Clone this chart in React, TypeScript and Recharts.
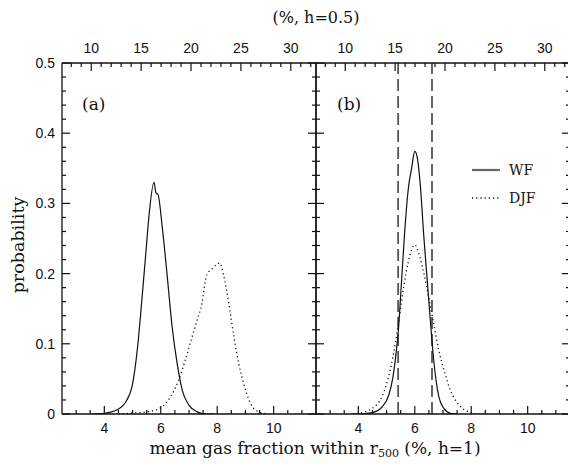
import React from 'react';
import { LineChart, Line, XAxis, YAxis, ReferenceLine, Legend } from 'recharts';

// conversion factor from h=1 gas fraction to h=0.5 gas fraction: (1/0.5)^1.5
const H_FACTOR = Math.pow(2, 1.5);

const xDomain: [number, number] = [2.5, 11.5];
const topDomain: [number, number] = [xDomain[0] * H_FACTOR, xDomain[1] * H_FACTOR];
const yDomain: [number, number] = [0, 0.5];

const bottomTicks = [3, 3.5, 4, 4.5, 5, 5.5, 6, 6.5, 7, 7.5, 8, 8.5, 9, 9.5, 10, 10.5, 11];
const bottomLabelled = [4, 6, 8, 10];
const topTicks = [8, 9, 10, 11, 12, 13, 14, 15, 16, 17, 18, 19, 20, 21, 22, 23, 24, 25, 26, 27, 28, 29, 30, 31, 32];
const topLabelled = [10, 15, 20, 25, 30];
const yTicks = [0, 0.02, 0.04, 0.06, 0.08, 0.1, 0.12, 0.14, 0.16, 0.18, 0.2, 0.22, 0.24, 0.26, 0.28, 0.3, 0.32, 0.34, 0.36, 0.38, 0.4, 0.42, 0.44, 0.46, 0.48, 0.5];
const yLabelled = [0, 0.1, 0.2, 0.3, 0.4, 0.5];

const seriesNames = ['WF', 'DJF'];

// panel (a)
const wfPanelA: [number, number][] = [
  [3.6, 0], [4.0, 0.001], [4.45, 0.006], [4.8, 0.02], [4.98, 0.039], [5.18, 0.096], [5.28, 0.139],
  [5.49, 0.239], [5.57, 0.277], [5.76, 0.33], [5.83, 0.315], [5.9, 0.313], [6.05, 0.267], [6.22, 0.2],
  [6.4, 0.125], [6.58, 0.072], [6.76, 0.034], [6.99, 0.013], [7.29, 0.003], [7.6, 0], [7.9, 0],
];
const djfPanelA: [number, number][] = [
  [4.5, 0], [4.92, 0.001], [5.51, 0.003], [5.99, 0.009], [6.34, 0.024], [6.63, 0.048], [6.87, 0.077],
  [7.11, 0.11], [7.29, 0.134], [7.46, 0.158], [7.58, 0.19], [7.64, 0.199], [7.82, 0.207], [8.09, 0.215],
  [8.23, 0.197], [8.41, 0.158], [8.59, 0.11], [8.76, 0.072], [8.94, 0.043], [9.18, 0.015], [9.47, 0.003],
  [9.8, 0],
];

// panel (b)
const wfPanelB: [number, number][] = [
  [3.8, 0], [4.01, 0], [4.49, 0.002], [4.84, 0.01], [5.08, 0.027], [5.22, 0.051], [5.31, 0.077],
  [5.43, 0.125], [5.52, 0.182], [5.64, 0.258], [5.78, 0.324], [5.88, 0.348], [6.0, 0.374], [6.08, 0.367],
  [6.2, 0.324], [6.32, 0.253], [6.44, 0.191], [6.55, 0.134], [6.67, 0.077], [6.85, 0.025], [7.03, 0.008],
  [7.26, 0.001], [7.5, 0],
];
const djfPanelB: [number, number][] = [
  [3.8, 0], [4.01, 0.001], [4.49, 0.008], [4.84, 0.025], [5.13, 0.063], [5.31, 0.101], [5.49, 0.148],
  [5.61, 0.182], [5.76, 0.215], [6.0, 0.241], [6.14, 0.229], [6.32, 0.201], [6.49, 0.167], [6.67, 0.129],
  [6.85, 0.091], [7.03, 0.063], [7.26, 0.034], [7.56, 0.013], [7.91, 0.003], [8.25, 0], [8.5, 0],
];

// dashed range markers in panel (b)
const rangeMarkers = [5.41, 6.61];

const toRows = (pts: [number, number][]) => pts.map(([x, p]) => ({ x, p }));
// same points expressed in h=0.5 units (for the top axis)
const toRowsH05 = (pts: [number, number][]) => pts.map(([x, p]) => ({ x: x * H_FACTOR, p }));

const SERIF = '"DejaVu Serif", "Liberation Serif", serif';
const SANS = '"Liberation Sans", Arial, sans-serif';
const INK = '#111';

type Side = 'left' | 'right' | 'top' | 'bottom';

const near = (list: number[], v: number) => list.some((m) => Math.abs(m - v) < 1e-6);

function makeTick(side: Side, majors: number[], showLabels: boolean, fmt: (v: number) => string) {
  return (props: any) => {
    const { x, y, payload } = props;
    const v = payload.value as number;
    const major = near(majors, v);
    const len = major ? 8 : 4;
    let line: React.ReactNode = null;
    let label: React.ReactNode = null;
    const tp = { fill: INK, fontSize: 14, fontFamily: SANS, stroke: 'none' };
    if (side === 'bottom') {
      line = <line x1={x} y1={y} x2={x} y2={y - len} />;
      if (showLabels && major) label = <text x={x} y={y + 19} textAnchor="middle" {...tp}>{fmt(v)}</text>;
    } else if (side === 'top') {
      line = <line x1={x} y1={y} x2={x} y2={y + len} />;
      if (showLabels && major) label = <text x={x} y={y - 10} textAnchor="middle" {...tp}>{fmt(v)}</text>;
    } else if (side === 'left') {
      line = <line x1={x} y1={y} x2={x + len} y2={y} />;
      if (showLabels && major) label = <text x={x - 7} y={y + 5} textAnchor="end" {...tp}>{fmt(v)}</text>;
    } else {
      line = <line x1={x} y1={y} x2={x - len} y2={y} />;
    }
    return (
      <g>
        <g stroke={INK} strokeWidth={1.2}>{line}</g>
        {label}
      </g>
    );
  };
}

const fmtInt = (v: number) => String(v);
const fmtY = (v: number) => (v === 0 ? '0' : v.toFixed(1));
const axisLine = { stroke: INK, strokeWidth: 1.3 };

const LegendBox = (props: any) => {
  const payload = ((props.payload || []) as any[])
    .filter((e) => seriesNames.includes(e.value))
    .sort((a, b) => seriesNames.indexOf(a.value) - seriesNames.indexOf(b.value));
  return (
    <svg width={100} height={50} style={{ display: 'block', overflow: 'visible' }}>
      {payload.map((entry, i) => {
        const dotted = entry.value === 'DJF';
        const y = 12 + i * 28;
        return (
          <g key={entry.value}>
            <line
              x1={2}
              y1={y}
              x2={30}
              y2={y}
              stroke={dotted ? INK : '#666'}
              strokeWidth={dotted ? 1.3 : 2.2}
              strokeDasharray={dotted ? '1.2 3' : undefined}
            />
            <text x={39} y={y + 5} fontFamily={SERIF} fontSize={14} fill={INK}>
              {entry.value}
            </text>
          </g>
        );
      })}
    </svg>
  );
};

interface PanelProps {
  wf: [number, number][];
  djf: [number, number][];
  width: number;
  marginLeft: number;
  leftAxisWidth: number;
  rightAxisWidth: number;
  showYLabels: boolean;
  markers?: number[];
  legend?: boolean;
}

function Panel(p: PanelProps) {
  return (
    <LineChart
      width={p.width}
      height={464}
      margin={{ top: 33, right: 0, bottom: 20, left: p.marginLeft }}
    >
      <XAxis
        dataKey="x"
        type="number"
        domain={xDomain}
        ticks={bottomTicks}
        interval={0}
        allowDataOverflow
        tickSize={0}
        tickMargin={0}
        height={30}
        axisLine={axisLine}
        tickLine={false}
        tick={makeTick('bottom', bottomLabelled, true, fmtInt)}
      />
      <XAxis
        xAxisId="top"
        dataKey="x"
        orientation="top"
        type="number"
        domain={topDomain}
        ticks={topTicks}
        interval={0}
        allowDataOverflow
        tickSize={0}
        tickMargin={0}
        height={30}
        axisLine={axisLine}
        tickLine={false}
        tick={makeTick('top', topLabelled, true, fmtInt)}
      />
      <YAxis
        type="number"
        domain={yDomain}
        ticks={yTicks}
        interval={0}
        allowDataOverflow
        tickSize={0}
        tickMargin={0}
        width={p.leftAxisWidth}
        axisLine={axisLine}
        tickLine={false}
        tick={makeTick('left', yLabelled, p.showYLabels, fmtY)}
      />
      <YAxis
        yAxisId="r"
        orientation="right"
        type="number"
        domain={yDomain}
        ticks={yTicks}
        interval={0}
        allowDataOverflow
        tickSize={0}
        tickMargin={0}
        width={p.rightAxisWidth}
        axisLine={axisLine}
        tickLine={false}
        tick={makeTick('right', yLabelled, false, fmtY)}
      />
      {(p.markers || []).map((m) => (
        <ReferenceLine key={m} x={m} stroke="#555" strokeWidth={1.8} strokeDasharray="12 5" />
      ))}
      {/* invisible copy on the h=0.5 / right axes so those scales are active */}
      <Line
        xAxisId="top"
        yAxisId="r"
        name="h05"
        legendType="none"
        data={toRowsH05(p.djf)}
        dataKey="p"
        stroke="none"
        strokeOpacity={0}
        dot={false}
        activeDot={false}
        isAnimationActive={false}
      />
      <Line
        name="WF"
        data={toRows(p.wf)}
        dataKey="p"
        type="monotone"
        stroke={INK}
        strokeWidth={1.2}
        dot={false}
        isAnimationActive={false}
      />
      <Line
        name="DJF"
        data={toRows(p.djf)}
        dataKey="p"
        type="monotone"
        stroke={INK}
        strokeWidth={1.3}
        strokeDasharray="1.2 3"
        dot={false}
        isAnimationActive={false}
      />
      {p.legend && (
        <Legend
          layout="horizontal"
          verticalAlign="middle"
          align="center"
          content={LegendBox}
          wrapperStyle={{ position: 'absolute', left: 170, top: 158, width: 100, height: 50 }}
        />
      )}
    </LineChart>
  );
}

const textStyle: React.CSSProperties = {
  position: 'absolute',
  fontFamily: SERIF,
  fontSize: 17,
  color: INK,
  whiteSpace: 'nowrap',
  lineHeight: '20px',
};

export default function App() {
  return (
    <div
      style={{
        position: 'absolute',
        left: 0,
        top: 0,
        width: 568,
        height: 464,
        overflow: 'hidden',
        background: '#fff',
      }}
    >
      <div style={{ position: 'absolute', left: 0, top: 0 }}>
        <Panel wf={wfPanelA} djf={djfPanelA} width={320} marginLeft={22} leftAxisWidth={40} rightAxisWidth={4} showYLabels />
      </div>
      <div style={{ position: 'absolute', left: 300, top: 0 }}>
        <Panel
          wf={wfPanelB}
          djf={djfPanelB}
          width={280}
          marginLeft={0}
          leftAxisWidth={16}
          rightAxisWidth={10}
          showYLabels={false}
          markers={rangeMarkers}
          legend
        />
      </div>
      <div style={{ ...textStyle, left: 82, top: 94 }}>(a)</div>
      <div style={{ ...textStyle, left: 337, top: 94 }}>(b)</div>
      <div style={{ ...textStyle, fontSize: 16, left: 0, width: 632, top: 8, textAlign: 'center' }}>(%, h=0.5)</div>
      <div style={{ ...textStyle, left: 0, width: 630, top: 439, lineHeight: '18px', textAlign: 'center' }}>
        mean gas fraction within r<sub style={{ fontSize: 11, verticalAlign: -3, lineHeight: '11px' }}>500</sub> (%, h=1)
      </div>
      <div
        style={{
          ...textStyle,
          fontSize: 17.5,
          left: 18,
          top: 245,
          transform: 'translate(-50%, -50%) rotate(-90deg)',
        }}
      >
        probability
      </div>
    </div>
  );
}
